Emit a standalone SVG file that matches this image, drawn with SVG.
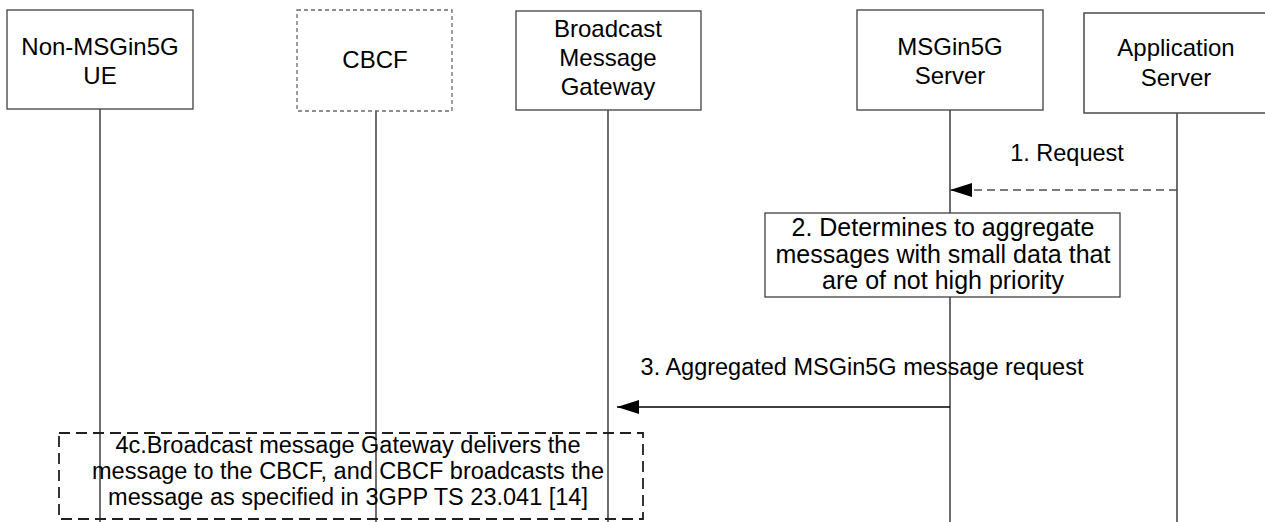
<svg xmlns="http://www.w3.org/2000/svg" width="1265" height="522" viewBox="0 0 1265 522">
<style>
text{font-family:"Liberation Sans",Arial,sans-serif;fill:#000;text-anchor:middle}
.t{font-size:24px}
.m{font-size:23.5px}
.b{font-size:25px}
.box{fill:#fff;stroke:#404040;stroke-width:1.3}
.dbox{fill:#fff;stroke:#6a6a6a;stroke-width:1.3;stroke-dasharray:4 3}
.life{stroke:#303030;stroke-width:1.4;fill:none}
</style>
<defs>
<marker id="ah" viewBox="0 0 22 14" refX="22" refY="7" markerWidth="22" markerHeight="14" markerUnits="userSpaceOnUse" orient="auto">
<path d="M0,0 L22,7 L0,14 Z" fill="#000"/>
</marker>
</defs>
<g id="lifelines">
<line class="life" x1="100" y1="109" x2="100" y2="522"/>
<line class="life" x1="376" y1="111" x2="376" y2="522"/>
<line class="life" x1="608" y1="110" x2="608" y2="522"/>
<line class="life" x1="950" y1="110" x2="950" y2="522"/>
<line class="life" x1="1177" y1="113" x2="1177" y2="522"/>
</g>
<g id="n-ue">
<rect class="box" x="7" y="10" width="186" height="99"/>
<text class="t" x="100" y="55">Non-MSGin5G</text>
<text class="t" x="100" y="84">UE</text>
</g>
<g id="n-cbcf">
<rect class="dbox" x="297" y="10" width="155" height="101"/>
<text class="t" x="375" y="68">CBCF</text>
</g>
<g id="n-bmg">
<rect class="box" x="516" y="11" width="185" height="99"/>
<text class="t" x="608" y="37">Broadcast</text>
<text class="t" x="608" y="66">Message</text>
<text class="t" x="608" y="95">Gateway</text>
</g>
<g id="n-msg">
<rect class="box" x="857" y="10" width="186" height="100"/>
<text class="t" x="950" y="55">MSGin5G</text>
<text class="t" x="950" y="84">Server</text>
</g>
<g id="n-as">
<rect class="box" x="1084" y="13" width="190" height="100" style="stroke:#555;stroke-width:1.6"/>
<text class="t" x="1176" y="56">Application</text>
<text class="t" x="1176" y="86">Server</text>
</g>
<g id="n-step2">
<rect class="box" x="765" y="213" width="355" height="84"/>
<text class="b" x="943" y="236">2. Determines to aggregate</text>
<text class="b" x="943" y="263">messages with small data that</text>
<text class="b" x="943" y="289">are of not high priority</text>
</g>
<g id="connectors">
<line x1="1177" y1="190" x2="950" y2="190" stroke="#505050" stroke-width="1.4" stroke-dasharray="8 5" marker-end="url(#ah)"/>
<text class="m" x="1067" y="161">1. Request</text>
<line x1="950" y1="407" x2="617" y2="407" stroke="#000" stroke-width="1.4" marker-end="url(#ah)"/>
<text class="m" x="862" y="375">3. Aggregated MSGin5G message request</text>
</g>
<g id="n-step4c">
<rect x="59" y="433" width="584" height="86" fill="none" stroke="#202020" stroke-width="1.8" stroke-dasharray="11 6"/>
<text class="m" x="348" y="453">4c.Broadcast message Gateway delivers the</text>
<text class="m" x="348" y="479">message to the CBCF, and CBCF broadcasts the</text>
<text class="m" x="348" y="505">message as specified in 3GPP TS 23.041 [14]</text>
</g>
</svg>
